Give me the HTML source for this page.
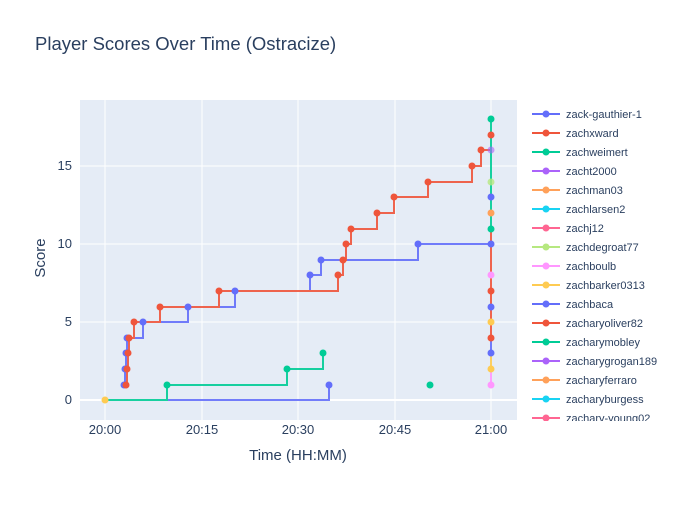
<!DOCTYPE html>
<html><head><meta charset="utf-8"><style>
body{margin:0;background:#fff;font-family:"Liberation Sans",sans-serif;}
svg text{font-family:"Liberation Sans",sans-serif;fill:#2a3f5f;}
</style></head><body>
<svg width="700" height="500" xmlns="http://www.w3.org/2000/svg">
<rect width="700" height="500" fill="#fff"/>
<text x="35" y="50" font-size="18.5">Player Scores Over Time (Ostracize)</text>
<rect x="80" y="100" width="437" height="320" fill="#e5ecf6"/>
<g stroke="#fff" stroke-width="1">
<line x1="105" y1="100" x2="105" y2="420"/><line x1="202" y1="100" x2="202" y2="420"/>
<line x1="298" y1="100" x2="298" y2="420"/><line x1="395" y1="100" x2="395" y2="420"/>
<line x1="491" y1="100" x2="491" y2="420"/>
<line x1="80" y1="322" x2="517" y2="322"/><line x1="80" y1="244" x2="517" y2="244"/>
<line x1="80" y1="166" x2="517" y2="166"/>
</g>
<line x1="80" y1="400" x2="517" y2="400" stroke="#fff" stroke-width="2"/>
<g font-size="13" text-anchor="middle">
<text x="105" y="434">20:00</text><text x="202" y="434">20:15</text><text x="298" y="434">20:30</text><text x="395" y="434">20:45</text><text x="491" y="434">21:00</text>
</g>
<g font-size="13" text-anchor="end">
<text x="72" y="404">0</text><text x="72" y="326">5</text><text x="72" y="248">10</text><text x="72" y="170">15</text>
</g>
<text x="298" y="460" font-size="15" text-anchor="middle">Time (HH:MM)</text>
<text transform="translate(45,258) rotate(-90)" font-size="15" text-anchor="middle">Score</text>
<g fill="none" stroke-width="2" opacity="0.9">
<polyline stroke="#636efa" points="105,400 329,400 329,385"/>
<polyline stroke="#00cc96" points="105,400 167,400 167,385 287,385 287,369 323,369 323,353"/>
<polyline stroke="#636efa" points="124,385 125,385 125,369 126,369 126,353 127,353 127,338 143,338 143,322 188,322 188,307 235,307 235,291 310,291 310,275 321,275 321,260 418,260 418,244 491,244"/>
<polyline stroke="#EF553B" points="126,385 127,385 127,369 128,369 128,353 129,353 129,338 134,338 134,322 160,322 160,307 219,307 219,291 338,291 338,275 343,275 343,260 346,260 346,244 351,244 351,229 377,229 377,213 394,213 394,197 428,197 428,182 472,182 472,166 481,166 481,150 491,150 491,135"/>
<line stroke="#FF97FF" x1="491" y1="385" x2="491" y2="369"/>
<line stroke="#FECB52" x1="491" y1="369" x2="491" y2="353"/>
<line stroke="#636efa" x1="491" y1="353" x2="491" y2="338"/>
<line stroke="#EF553B" x1="491" y1="338" x2="491" y2="229"/>
<line stroke="#00cc96" x1="491" y1="229" x2="491" y2="119"/>
</g>
<g>
<g fill="#636efa"><circle cx="329" cy="385" r="3.5"/><circle cx="124" cy="385" r="3.5"/><circle cx="125" cy="369" r="3.5"/><circle cx="126" cy="353" r="3.5"/><circle cx="127" cy="338" r="3.5"/><circle cx="143" cy="322" r="3.5"/><circle cx="188" cy="307" r="3.5"/><circle cx="235" cy="291" r="3.5"/><circle cx="310" cy="275" r="3.5"/><circle cx="321" cy="260" r="3.5"/><circle cx="418" cy="244" r="3.5"/><circle cx="491" cy="244" r="3.5"/><circle cx="491" cy="197" r="3.5"/><circle cx="491" cy="307" r="3.5"/><circle cx="491" cy="353" r="3.5"/></g>
<g fill="#00cc96"><circle cx="167" cy="385" r="3.5"/><circle cx="287" cy="369" r="3.5"/><circle cx="323" cy="353" r="3.5"/><circle cx="430" cy="385" r="3.5"/><circle cx="491" cy="229" r="3.5"/><circle cx="491" cy="119" r="3.5"/></g>
<g fill="#EF553B"><circle cx="126" cy="385" r="3.5"/><circle cx="127" cy="369" r="3.5"/><circle cx="128" cy="353" r="3.5"/><circle cx="129" cy="338" r="3.5"/><circle cx="134" cy="322" r="3.5"/><circle cx="160" cy="307" r="3.5"/><circle cx="219" cy="291" r="3.5"/><circle cx="338" cy="275" r="3.5"/><circle cx="343" cy="260" r="3.5"/><circle cx="346" cy="244" r="3.5"/><circle cx="351" cy="229" r="3.5"/><circle cx="377" cy="213" r="3.5"/><circle cx="394" cy="197" r="3.5"/><circle cx="428" cy="182" r="3.5"/><circle cx="472" cy="166" r="3.5"/><circle cx="481" cy="150" r="3.5"/><circle cx="491" cy="135" r="3.5"/><circle cx="491" cy="291" r="3.5"/><circle cx="491" cy="338" r="3.5"/></g>
<circle cx="105" cy="400" r="3.5" fill="#FECB52"/>
<circle cx="491" cy="150" r="3.5" fill="#ab63fa" opacity="0.6"/>
<circle cx="491" cy="182" r="3.5" fill="#B6E880" opacity="0.8"/>
<circle cx="491" cy="213" r="3.5" fill="#FFA15A"/>
<circle cx="491" cy="275" r="3.5" fill="#FF97FF"/>
<circle cx="491" cy="322" r="3.5" fill="#FECB52"/>
<circle cx="491" cy="369" r="3.5" fill="#FECB52"/>
<circle cx="491" cy="385" r="3.5" fill="#FF97FF"/>
</g>
<defs><clipPath id="lc"><rect x="525" y="100" width="175" height="321"/></clipPath></defs>
<g clip-path="url(#lc)" font-size="11" stroke-width="2">
<g transform="translate(0,114)"><line x1="532" x2="560" stroke="#636efa"/><circle cx="546" r="3.5" fill="#636efa"/><text x="566" y="4">zack-gauthier-1</text></g>
<g transform="translate(0,133)"><line x1="532" x2="560" stroke="#EF553B"/><circle cx="546" r="3.5" fill="#EF553B"/><text x="566" y="4">zachxward</text></g>
<g transform="translate(0,152)"><line x1="532" x2="560" stroke="#00cc96"/><circle cx="546" r="3.5" fill="#00cc96"/><text x="566" y="4">zachweimert</text></g>
<g transform="translate(0,171)"><line x1="532" x2="560" stroke="#ab63fa"/><circle cx="546" r="3.5" fill="#ab63fa"/><text x="566" y="4">zacht2000</text></g>
<g transform="translate(0,190)"><line x1="532" x2="560" stroke="#FFA15A"/><circle cx="546" r="3.5" fill="#FFA15A"/><text x="566" y="4">zachman03</text></g>
<g transform="translate(0,209)"><line x1="532" x2="560" stroke="#19d3f3"/><circle cx="546" r="3.5" fill="#19d3f3"/><text x="566" y="4">zachlarsen2</text></g>
<g transform="translate(0,228)"><line x1="532" x2="560" stroke="#FF6692"/><circle cx="546" r="3.5" fill="#FF6692"/><text x="566" y="4">zachj12</text></g>
<g transform="translate(0,247)"><line x1="532" x2="560" stroke="#B6E880"/><circle cx="546" r="3.5" fill="#B6E880"/><text x="566" y="4">zachdegroat77</text></g>
<g transform="translate(0,266)"><line x1="532" x2="560" stroke="#FF97FF"/><circle cx="546" r="3.5" fill="#FF97FF"/><text x="566" y="4">zachboulb</text></g>
<g transform="translate(0,285)"><line x1="532" x2="560" stroke="#FECB52"/><circle cx="546" r="3.5" fill="#FECB52"/><text x="566" y="4">zachbarker0313</text></g>
<g transform="translate(0,304)"><line x1="532" x2="560" stroke="#636efa"/><circle cx="546" r="3.5" fill="#636efa"/><text x="566" y="4">zachbaca</text></g>
<g transform="translate(0,323)"><line x1="532" x2="560" stroke="#EF553B"/><circle cx="546" r="3.5" fill="#EF553B"/><text x="566" y="4">zacharyoliver82</text></g>
<g transform="translate(0,342)"><line x1="532" x2="560" stroke="#00cc96"/><circle cx="546" r="3.5" fill="#00cc96"/><text x="566" y="4">zacharymobley</text></g>
<g transform="translate(0,361)"><line x1="532" x2="560" stroke="#ab63fa"/><circle cx="546" r="3.5" fill="#ab63fa"/><text x="566" y="4">zacharygrogan189</text></g>
<g transform="translate(0,380)"><line x1="532" x2="560" stroke="#FFA15A"/><circle cx="546" r="3.5" fill="#FFA15A"/><text x="566" y="4">zacharyferraro</text></g>
<g transform="translate(0,399)"><line x1="532" x2="560" stroke="#19d3f3"/><circle cx="546" r="3.5" fill="#19d3f3"/><text x="566" y="4">zacharyburgess</text></g>
<g transform="translate(0,418)"><line x1="532" x2="560" stroke="#FF6692"/><circle cx="546" r="3.5" fill="#FF6692"/><text x="566" y="4">zachary-young02</text></g>
</g>
</svg>
</body></html>
